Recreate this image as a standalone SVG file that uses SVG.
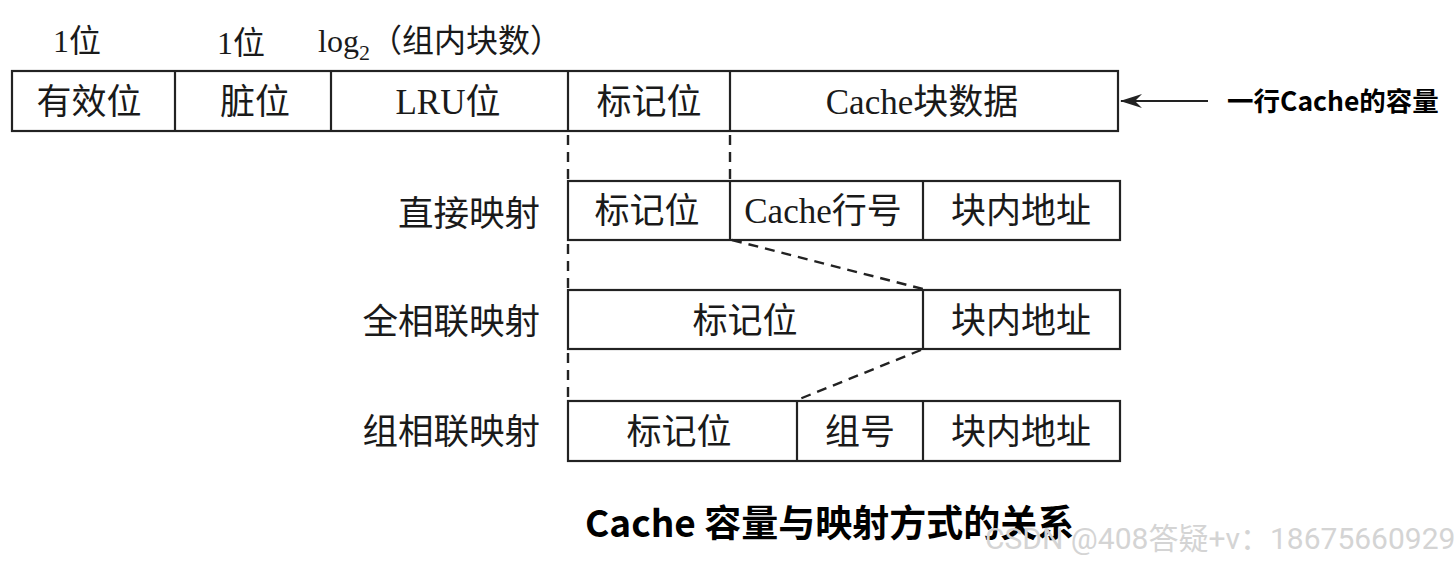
<svg xmlns="http://www.w3.org/2000/svg" width="1454" height="563" viewBox="0 0 1454 563">
<style>
.box{fill:#fff;stroke:#222;stroke-width:2.2}
.div{stroke:#222;stroke-width:2.2}
.dash{stroke:#222;stroke-width:2.4;stroke-dasharray:10 7;fill:none}
.t{font-family:"Liberation Serif","Noto Sans CJK SC",serif;font-size:35px;fill:#1a1a1a;text-anchor:middle}
.lbl{font-family:"Liberation Serif","Noto Sans CJK SC",serif;font-size:35.5px;fill:#1a1a1a;text-anchor:end}
.top{font-family:"Liberation Serif","Noto Sans CJK SC",serif;font-size:32px;fill:#1a1a1a}
.bold{font-family:"Noto Sans CJK SC","Noto Sans",sans-serif;font-weight:bold;fill:#000}
</style>
<defs>
<marker id="arr" viewBox="0 0 22 14" refX="21" refY="7" markerWidth="22" markerHeight="14" markerUnits="userSpaceOnUse" orient="auto">
<path d="M0,0 L22,7 L0,14 L7,7 Z" fill="#222"/>
</marker>
</defs>
<rect width="1454" height="563" fill="#fff"/>
<g id="top-labels">
<text class="top" x="53" y="52">1位</text>
<text class="top" x="217" y="54">1位</text>
<text class="top" x="318" y="52">log<tspan font-size="22" dy="8">2</tspan><tspan dy="-8">（组内块数）</tspan></text>
</g>
<g id="cache-line">
<rect class="box" x="12" y="71" width="1106" height="60"/>
<line class="div" x1="175" y1="71" x2="175" y2="131"/>
<line class="div" x1="331" y1="71" x2="331" y2="131"/>
<line class="div" x1="568" y1="71" x2="568" y2="131"/>
<line class="div" x1="730" y1="71" x2="730" y2="131"/>
<text class="t" x="89" y="114">有效位</text>
<text class="t" x="255" y="114">脏位</text>
<text class="t" x="448" y="114">LRU位</text>
<text class="t" x="649" y="114">标记位</text>
<text class="t" x="922" y="114">Cache块数据</text>
</g>
<g id="direct">
<text class="lbl" x="540" y="226">直接映射</text>
<rect class="box" x="568" y="181" width="552" height="59"/>
<line class="div" x1="730" y1="181" x2="730" y2="240"/>
<line class="div" x1="923" y1="181" x2="923" y2="240"/>
<text class="t" x="647" y="223">标记位</text>
<text class="t" x="823" y="223">Cache行号</text>
<text class="t" x="1021" y="223">块内地址</text>
</g>
<g id="full">
<text class="lbl" x="540" y="334">全相联映射</text>
<rect class="box" x="568" y="290" width="552" height="59"/>
<line class="div" x1="923" y1="290" x2="923" y2="349"/>
<text class="t" x="745" y="333">标记位</text>
<text class="t" x="1021" y="333">块内地址</text>
</g>
<g id="set">
<text class="lbl" x="540" y="444">组相联映射</text>
<rect class="box" x="568" y="401" width="552" height="60"/>
<line class="div" x1="797" y1="401" x2="797" y2="461"/>
<line class="div" x1="923" y1="401" x2="923" y2="461"/>
<text class="t" x="679" y="444">标记位</text>
<text class="t" x="860" y="444">组号</text>
<text class="t" x="1021" y="444">块内地址</text>
</g>
<g id="connectors">
<line class="dash" x1="568" y1="135" x2="568" y2="181"/>
<line class="dash" x1="730" y1="135" x2="730" y2="181"/>
<line class="dash" x1="568" y1="244" x2="568" y2="290"/>
<line class="dash" x1="732" y1="240" x2="923" y2="289"/>
<line class="dash" x1="568" y1="353" x2="568" y2="401"/>
<line class="dash" x1="921" y1="350" x2="797" y2="400"/>
<line x1="1208" y1="101" x2="1121" y2="101" stroke="#222" stroke-width="2.2" marker-end="url(#arr)"/>
</g>
<g id="annotations">
<text class="bold" x="1227" y="111" font-size="26.5">一行Cache的容量</text>
<text class="bold" x="585" y="537" font-size="37">Cache 容量与映射方式的关系</text>
<text x="985" y="549" font-family="Roboto,'Noto Sans CJK SC',sans-serif" font-size="30" fill="#d4d4d4">CSDN @408答疑+v：18675660929</text>
</g>
</svg>
